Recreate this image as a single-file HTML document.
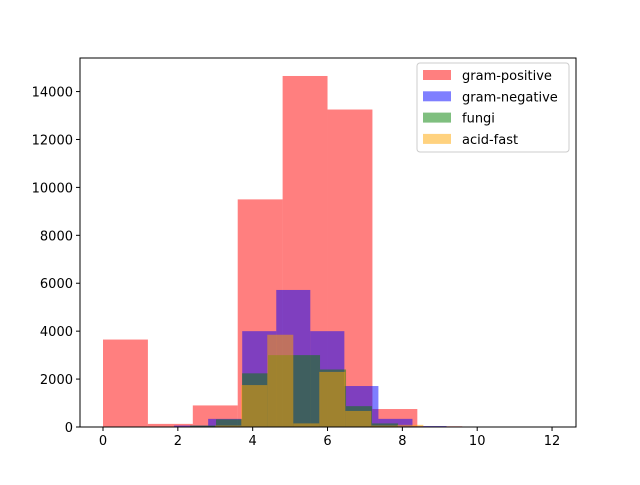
<!DOCTYPE html>
<html><head><meta charset="utf-8"><style>
body{margin:0;background:#fff}
svg text{font-family:"DejaVu Sans","Liberation Sans",sans-serif;font-size:13px;fill:#000}
</style></head><body>
<svg id="chart" width="640" height="480">
<rect width="640" height="480" fill="#fff"/>
<g id="bars"></g>
<g id="axes"></g>
</svg>
<script>
const xTicks=[0,2,4,6,8,10,12];
const yTicks=[0,2000,4000,6000,8000,10000,12000,14000];
const seriesNames=["gram-positive","gram-negative","fungi","acid-fast"];
const gramPosStart=0, gramPosWidth=1.2;
const gramPos=[3650,130,900,9500,14650,13250,750,30,20,10];
const gramNegStart=1.9, gramNegWidth=0.91;
const gramNeg=[60,340,4000,5720,4000,1710,340,40,10,5];
const fungiStart=1.63, fungiWidth=0.695;
const fungi=[20,60,320,2240,3000,3000,2400,870,150,20];
const acidStart=3.0, acidWidth=0.695;
const acid=[60,1750,3850,150,2300,670,60,90,10,5];

const L=80,R=576,T=58,B=427;
const xs=v=>103+v*37.42;
const ys=v=>B-v*0.02396;
const ns="http://www.w3.org/2000/svg";
const bars=document.getElementById('bars'),axes=document.getElementById('axes');
function mk(t,a,p){const e=document.createElementNS(ns,t);for(const k in a)e.setAttribute(k,a[k]);p.appendChild(e);return e;}
const series=[[gramPos,gramPosStart,gramPosWidth,"#ff0000"],[gramNeg,gramNegStart,gramNegWidth,"#0000ff"],[fungi,fungiStart,fungiWidth,"#008000"],[acid,acidStart,acidWidth,"#ffa500"]];
series.forEach((s,si)=>{
  s[0].forEach((v,i)=>{
    const x0=xs(s[1]+i*s[2]),x1=xs(s[1]+(i+1)*s[2]);
    const r=mk('rect',{x:x0,y:ys(v),width:x1-x0,height:B-ys(v),fill:s[3],'fill-opacity':0.5},bars);
    
    
  });
});
const frame=mk('rect',{x:L,y:T,width:R-L,height:B-T,fill:'none',stroke:'#000','stroke-width':1},axes);


xTicks.forEach(t=>{
  const x=xs(t);
  mk('line',{x1:x,x2:x,y1:B,y2:B+4,stroke:'#000'},axes);
  const tx=mk('text',{x:x,y:B+18,'text-anchor':'middle'},axes);tx.textContent=t;
  
  
});
yTicks.forEach(t=>{
  const y=ys(t);
  mk('line',{x1:L-4,x2:L,y1:y,y2:y,stroke:'#000'},axes);
  const tx=mk('text',{x:L-7,y:y+5,'text-anchor':'end'},axes);tx.textContent=t;
  
  
});
const lg=mk('g',{},axes);


mk('rect',{x:417,y:63,width:152,height:89,rx:3,fill:'#fff','fill-opacity':0.8,stroke:'#ccc'},lg);
series.forEach((s,i)=>{
  const y=75+i*21.3;
  const p=mk('rect',{x:423,y:y-5,width:28,height:10,fill:s[3],'fill-opacity':0.5},lg);
  
  
  const t=mk('text',{x:462,y:y+5},lg);t.textContent=seriesNames[i];
  
  
});
</script>
</body></html>
